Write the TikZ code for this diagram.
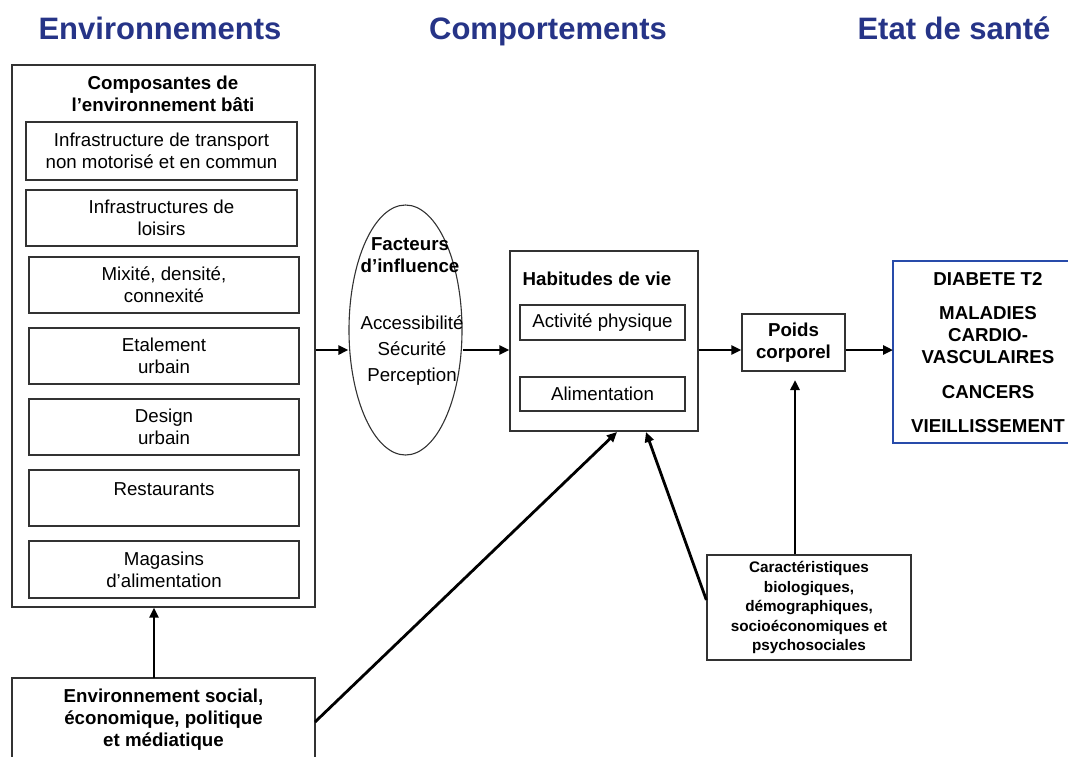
\documentclass[tikz,border=0pt]{standalone}
\usepackage{fontspec}
\setmainfont{Liberation Sans}
\usetikzlibrary{arrows.meta,shapes.geometric}
\definecolor{titleblue}{RGB}{38,52,135}
\definecolor{boxblue}{RGB}{40,75,170}
\definecolor{edge}{RGB}{50,50,50}
\tikzset{
  ttl/.style={font=\bfseries\fontsize{31}{34}\selectfont, text=titleblue, inner sep=0pt, anchor=base},
  frame/.style={draw=edge, line width=1.3pt},
  txt/.style={font=\fontsize{18.7}{22}\selectfont, align=center, inner sep=0pt},
  btxt/.style={font=\bfseries\fontsize{18.7}{22}\selectfont, align=center, inner sep=0pt},
  stxt/.style={font=\bfseries\fontsize{15.3}{19.5}\selectfont, align=center, inner sep=0pt},
  arr/.style={line width=2.8pt, -{Triangle[length=10pt,width=9pt]}},
}
\begin{document}
\begin{tikzpicture}[x=1pt,y=-1pt]
\useasboundingbox (0,0) rectangle (1068,756);
% titles
\node[ttl] (t1) at (160,39) {Environnements};
\node[ttl] (t2) at (548,39) {Comportements};
\node[ttl] (t3) at (954,39) {Etat de santé};
% outer environment box
\node[frame, minimum width=303pt, minimum height=542pt, inner sep=0pt] (env) at (163.5,336) {};
\node[btxt] (envt) at (163,94) {Composantes de\\l’environnement bâti};
% inner boxes
\node[frame, minimum width=271pt, minimum height=58pt, inner sep=0pt] (b1) at (161.5,151) {};
\node[txt] at (b1.center) {Infrastructure de transport\\non motorisé et en commun};
\node[frame, minimum width=271pt, minimum height=56pt, inner sep=0pt] (b2) at (161.5,218) {};
\node[txt] at (b2.center) {Infrastructures de\\loisirs};
\node[frame, minimum width=270pt, minimum height=56pt, inner sep=0pt] (b3) at (164,285) {};
\node[txt] at (b3.center) {Mixité, densité,\\connexité};
\node[frame, minimum width=270pt, minimum height=56pt, inner sep=0pt] (b4) at (164,356) {};
\node[txt] at (b4.center) {Etalement\\urbain};
\node[frame, minimum width=270pt, minimum height=56pt, inner sep=0pt] (b5) at (164,427) {};
\node[txt] at (b5.center) {Design\\urbain};
\node[frame, minimum width=270pt, minimum height=56pt, inner sep=0pt] (b6) at (164,498) {};
\node[txt] at (164,489) {Restaurants};
\node[frame, minimum width=270pt, minimum height=57pt, inner sep=0pt] (b7) at (164,569.5) {};
\node[txt] at (b7.center) {Magasins\\d’alimentation};
% bottom social box
\draw[frame] (12,770) -- (12,678) -- (315,678) -- (315,770);
\coordinate (soc) at (154,678);
\coordinate (socr) at (315,722);
\node[btxt] (soct) at (163.5,720) {Environnement social,\\économique, politique\\et médiatique};
% ellipse
\node[draw=edge, line width=1.1pt, ellipse, minimum width=113pt, minimum height=250pt, inner sep=0pt] (ell) at (405.5,330) {};
\node[btxt] at (410,255) {Facteurs\\d’influence};
\node[txt, font=\fontsize{18.7}{26}\selectfont] at (412,351) {Accessibilité\\Sécurité\\Perception};
% habitudes
\node[frame, minimum width=188pt, minimum height=180pt, inner sep=0pt] (hab) at (604,341) {};
\node[btxt] at (597,279) {Habitudes de vie};
\node[frame, minimum width=165pt, minimum height=35pt, inner sep=0pt] (act) at (602.5,322.5) {};
\node[txt] at (act.center) {Activité physique};
\node[frame, minimum width=165pt, minimum height=34pt, inner sep=0pt] (ali) at (602.5,394) {};
\node[txt] at (ali.center) {Alimentation};
% poids
\node[frame, minimum width=103pt, minimum height=57pt, inner sep=0pt] (poids) at (793.5,342.5) {};
\node[btxt] at (poids.center) {Poids\\corporel};
% sante
\draw[draw=boxblue, line width=2.6pt] (1075,261) -- (893,261) -- (893,443) -- (1075,443);
\coordinate (sante) at (893,350);
\node[btxt] at (988,279) {DIABETE T2};
\node[btxt] at (988,335) {MALADIES\\CARDIO-\\VASCULAIRES};
\node[btxt] at (988,392) {CANCERS};
\node[btxt] at (988,426) {VIEILLISSEMENT};
% caracteristiques
\node[frame, minimum width=204pt, minimum height=105pt, inner sep=0pt] (car) at (809,607.5) {};
\node[stxt] at (car.center) {Caractéristiques\\biologiques,\\démographiques,\\socioéconomiques et\\psychosociales};
% arrows
\draw[arr] (env.east |- 0,350) -- (ell.west |- 0,350);
\draw[arr] (ell.east |- 0,350) -- (hab.west |- 0,350);
\draw[arr] (hab.east |- 0,350) -- (poids.west |- 0,350);
\draw[arr] (poids.east |- 0,350) -- (sante);
\draw[arr] (soc) -- (env.south -| soc);
\draw[arr] (socr) -- (617,432);
\draw[arr] (car.north -| 795,0) -- (795,380);
\draw[arr] (car.west |- 0,600) -- (646,432);
\end{tikzpicture}
\end{document}
